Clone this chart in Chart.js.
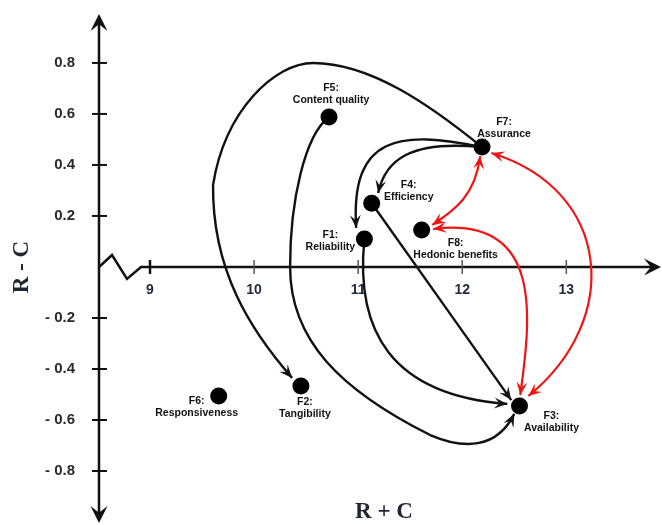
<!DOCTYPE html>
<html>
<head>
<meta charset="utf-8">
<script src="https://cdn.jsdelivr.net/npm/chart.js@4.4.1/dist/chart.umd.min.js"></script>
<style>
  html, body { margin: 0; padding: 0; background: #fff; }
  #wrap { width: 662px; height: 525px; }
</style>
</head>
<body>
<div id="wrap"><canvas id="causalChart" width="662" height="525"></canvas></div>
<script>
// factors (R + C, R - C)
var factorIds = ["F1", "F2", "F3", "F4", "F5", "F6", "F7", "F8"];
var factorNames = ["Reliability", "Tangibility", "Availability", "Efficiency",
                   "Content quality", "Responsiveness", "Assurance", "Hedonic benefits"];
var rPlusC  = [11.06, 10.45, 12.55, 11.13, 10.72, 9.66, 12.19, 11.61];
var rMinusC = [0.11, -0.467, -0.545, 0.25, 0.588, -0.506, 0.47, 0.145];

// one-way influences (black) and two-way influences (red), by factor index
var oneWayFrom = [6, 4, 6, 6, 3, 0];
var oneWayTo   = [1, 2, 0, 3, 2, 2];
var twoWayA = [6, 7, 6];
var twoWayB = [7, 2, 2];

var xTicks = [9, 10, 11, 12, 13];
var yTicks = [0.8, 0.6, 0.4, 0.2, -0.2, -0.4, -0.6, -0.8];

// ---- drawing geometry (curve control points in data units) ----
var oneWayPaths = [
    [[11.692, 0.635], [11.115, 0.800], [10.567, 0.800],
     [10.202, 0.800], [9.721, 0.616], [9.606, 0.322],
     [9.596, -0.012], [9.962, -0.247], [10.365, -0.435]],
    [[10.490, 0.518], [10.346, 0.263], [10.346, 0.0],
     [10.346, -0.286], [10.827, -0.482], [11.692, -0.659],
     [12.029, -0.718], [12.337, -0.710], [12.500, -0.576]],
    [[11.404, 0.537], [10.923, 0.518], [10.981, 0.153]],
    [[11.5, 0.498], [11.260, 0.420], [11.192, 0.290]],
    [[11.577, -0.007], [12.024, -0.265], [12.471, -0.522]],
    [[10.971, -0.247], [11.308, -0.502], [12.433, -0.537]]
];
var twoWayPaths = [
    [[12.173, 0.435], [12.125, 0.282], [11.933, 0.224], [11.712, 0.165]],
    [[11.721, 0.149], [12.798, 0.204], [12.654, -0.208], [12.558, -0.502]],
    [[12.279, 0.447], [13.442, 0.302], [13.538, -0.208], [12.635, -0.506]]
];
// label block offsets from the dot (px): first line centre
var labelOffsets = [[-34, -4], [4, 16], [32, 10], [37, -18], [2, -29], [-22, 5], [22, -25], [34, 13]];

var X_MIN = 8.51, X_MAX = 13.9, Y_MIN = -1.0, Y_MAX = 0.988;

function px(chart, p) {
    return [chart.scales.x.getPixelForValue(p[0]), chart.scales.y.getPixelForValue(p[1])];
}

function arrowHead(ctx, tip, from, color, L, half) {
    var a = Math.atan2(tip[1] - from[1], tip[0] - from[0]);
    ctx.save();
    ctx.translate(tip[0], tip[1]);
    ctx.rotate(a);
    ctx.beginPath();
    ctx.moveTo(0, 0);
    ctx.lineTo(-L, -half);
    ctx.lineTo(-L * 0.6, 0);
    ctx.lineTo(-L, half);
    ctx.closePath();
    ctx.fillStyle = color;
    ctx.fill();
    ctx.restore();
}

function drawCurve(chart, ctx, pts, color, width, both) {
    var q = pts.map(function(p) { return px(chart, p); });
    ctx.beginPath();
    ctx.moveTo(q[0][0], q[0][1]);
    for (var i = 1; i + 2 < q.length; i += 3) {
        ctx.bezierCurveTo(q[i][0], q[i][1], q[i + 1][0], q[i + 1][1], q[i + 2][0], q[i + 2][1]);
    }
    ctx.strokeStyle = color;
    ctx.lineWidth = width;
    ctx.stroke();
    var n = q.length;
    arrowHead(ctx, q[n - 1], q[n - 2], color, 13, 5.5);
    if (both) arrowHead(ctx, q[0], q[1], color, 13, 5.5);
}

var axesPlugin = {
    id: "crossAxes",
    beforeDatasetsDraw: function(chart) {
        var ctx = chart.ctx;
        var x = chart.scales.x, y = chart.scales.y;
        var ax = x.getPixelForValue(X_MIN);
        var y0 = y.getPixelForValue(0);
        var top = y.getPixelForValue(Y_MAX), bottom = y.getPixelForValue(Y_MIN);
        var right = x.getPixelForValue(X_MAX);

        ctx.save();
        ctx.strokeStyle = "#111";
        ctx.lineWidth = 2.5;
        ctx.lineJoin = "miter";
        // vertical axis
        ctx.beginPath();
        ctx.moveTo(ax, top + 6);
        ctx.lineTo(ax, bottom - 6);
        ctx.stroke();
        arrowHead(ctx, [ax, top - 1], [ax, top + 20], "#111", 17, 8.5);
        arrowHead(ctx, [ax, bottom + 1], [ax, bottom - 20], "#111", 17, 8.5);
        // horizontal axis with break
        ctx.beginPath();
        ctx.moveTo(ax, y0);
        ctx.lineTo(ax + 13, y0 - 12);
        ctx.lineTo(ax + 28, y0 + 12);
        ctx.lineTo(ax + 42, y0);
        ctx.lineTo(right - 8, y0);
        ctx.stroke();
        arrowHead(ctx, [right + 1, y0], [right - 20, y0], "#111", 17, 8.5);

        // y ticks + labels
        ctx.font = "bold 15px 'Liberation Sans', Arial, sans-serif";
        ctx.fillStyle = "#2a2a2a";
        ctx.textAlign = "right";
        ctx.textBaseline = "middle";
        ctx.lineWidth = 2;
        yTicks.forEach(function(v) {
            var py = y.getPixelForValue(v);
            ctx.beginPath();
            ctx.moveTo(ax - 7, py);
            ctx.lineTo(ax + 8, py);
            ctx.stroke();
            var t = v < 0 ? "- " + Math.abs(v).toFixed(1) : v.toFixed(1);
            ctx.fillText(t, ax - 24, py);
        });
        // x ticks + labels
        ctx.font = "bold 14px 'Liberation Sans', Arial, sans-serif";
        ctx.textAlign = "center";
        ctx.fillStyle = "#1f2a3c";
        xTicks.forEach(function(v, i) {
            var pxv = x.getPixelForValue(v);
            ctx.lineWidth = i === 0 ? 2.5 : 1.5;
            ctx.strokeStyle = i === 0 ? "#111" : "#555";
            ctx.beginPath();
            ctx.moveTo(pxv, y0 - 7);
            ctx.lineTo(pxv, y0 + 7);
            ctx.stroke();
            ctx.fillText(String(v), pxv, y0 + 23);
        });

        // axis titles
        ctx.fillStyle = "#1e2533";
        ctx.font = "bold 23px 'Liberation Serif', 'Times New Roman', serif";
        ctx.fillText("R + C", 384, 512);
        ctx.save();
        ctx.translate(22, y0);
        ctx.rotate(-Math.PI / 2);
        ctx.fillText("R - C", 0, 0);
        ctx.restore();

        // influence curves
        ctx.lineCap = "butt";
        oneWayFrom.forEach(function(f, i) {
            var pts = [[rPlusC[f], rMinusC[f]]].concat(oneWayPaths[i]);
            drawCurve(chart, ctx, pts, "#111", 2.4, false);
        });
        twoWayA.forEach(function(a, i) {
            drawCurve(chart, ctx, twoWayPaths[i], "#f01515", 2.2, true);
        });
        ctx.restore();
    },
    afterDatasetsDraw: function(chart) {
        var ctx = chart.ctx;
        var meta = chart.getDatasetMeta(0);
        ctx.save();
        ctx.font = "bold 10.5px 'Liberation Sans', Arial, sans-serif";
        ctx.fillStyle = "#111";
        ctx.textAlign = "center";
        ctx.textBaseline = "middle";
        meta.data.forEach(function(pt, i) {
            var o = labelOffsets[i];
            ctx.fillText(factorIds[i] + ":", pt.x + o[0], pt.y + o[1]);
            ctx.fillText(factorNames[i], pt.x + o[0], pt.y + o[1] + 12);
        });
        ctx.restore();
    }
};

var ctx = document.getElementById("causalChart").getContext("2d");
new Chart(ctx, {
    type: "scatter",
    data: {
        datasets: [{
            label: "Factors",
            data: rPlusC.map(function(v, i) { return { x: v, y: rMinusC[i] }; }),
            pointRadius: 8.5,
            pointHoverRadius: 8.5,
            backgroundColor: "#000",
            borderColor: "#000",
            borderWidth: 0
        }]
    },
    options: {
        responsive: false,
        animation: false,
        devicePixelRatio: 1,
        layout: { autoPadding: false, padding: { left: 99, right: 2, top: 15, bottom: 3 } },
        plugins: {
            legend: { display: false },
            tooltip: { enabled: false }
        },
        scales: {
            x: { type: "linear", display: false, min: X_MIN, max: X_MAX },
            y: { type: "linear", display: false, min: Y_MIN, max: Y_MAX }
        }
    },
    plugins: [axesPlugin]
});
</script>
</body>
</html>
